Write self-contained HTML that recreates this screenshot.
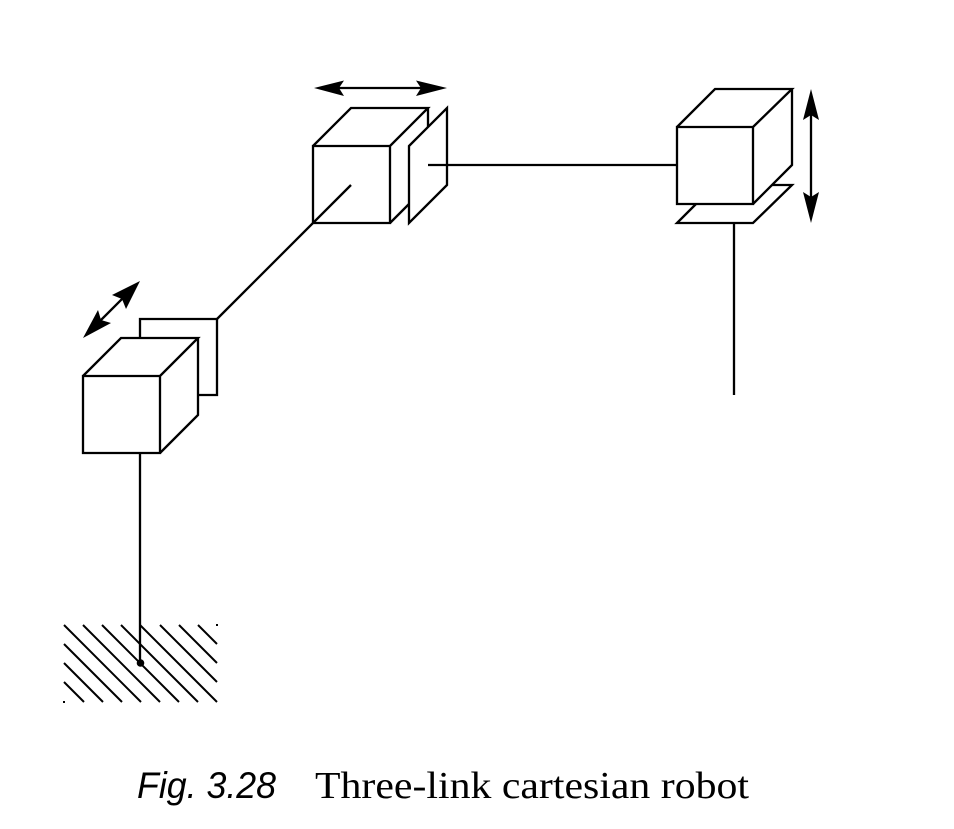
<!DOCTYPE html>
<html><head><meta charset="utf-8"><style>
html,body{margin:0;padding:0;background:#fff}
svg{display:block}
</style></head><body>
<svg width="954" height="829" viewBox="0 0 954 829" xmlns="http://www.w3.org/2000/svg">
<rect width="954" height="829" fill="#fff"/>
<g fill="none" stroke="#000" stroke-width="2.300" stroke-linejoin="miter" stroke-linecap="butt">
  <!-- hatch -->
  <g stroke-width="2">
    <path d="M64 625L141 702M83 625L160 702M102 625L179 702M121 625L198 702M140 625L217 702M160 625L217 682M179 625L217 663M198 625L217 644M64 644L122 702M64 663L103 702M64 682L84 702"/>
  </g>
  <path d="M140 453V663"/>
  <!-- cube 1 -->
  <path d="M140 338V319H217V395H198"/>
  <path d="M83 376H160V453H83ZM83 376L121 338H198L160 376M198 338V415L160 453"/>
  <path d="M217 319L351 185"/>
  <!-- cube 2 -->
  <path d="M313 146H390V223H313ZM313 146L351 108H428L390 146M428 108V127M390 223L409 204"/>
  <path d="M409 146L447 108V185L409 223Z"/>
  <path d="M428 165H677"/>
  <!-- cube 3 -->
  <path d="M677 127H753V204H677ZM677 127L715 89H792L753 127M792 89V165L753 204"/>
  <path d="M696 204L677 223H753L792 185H772M734 223V395"/>
  <!-- arrow shafts -->
  <path d="M330 88H430M811 105V207M130 291L93 328"/>
</g>
<g fill="#000">
  <circle cx="140.500" cy="663" r="3.800"/>
  <rect x="216" y="624" width="2" height="2"/>
  <rect x="63" y="701" width="2" height="2"/>
  <path d="M314 88L344 80.500L339 88L344 96Z"/>
  <path d="M447 88L416 80.500L421 88L416 96Z"/>
  <path d="M811 89L803 120L811 115L819 120Z"/>
  <path d="M811 223L803 192L811 197L819 192Z"/>
  <path d="M140 281L112 295L122 299L126 309Z"/>
  <path d="M83 338L111 323L101 320L98 310Z"/>
</g>
<text x="137" y="798" font-family="'Liberation Sans',sans-serif" font-style="italic" font-size="37" textLength="139" lengthAdjust="spacingAndGlyphs" fill="#000">Fig. 3.28</text>
<text x="315" y="798" font-family="'Liberation Serif',serif" font-size="38" textLength="434" lengthAdjust="spacingAndGlyphs" fill="#000">Three-link cartesian robot</text>
</svg>
</body></html>
